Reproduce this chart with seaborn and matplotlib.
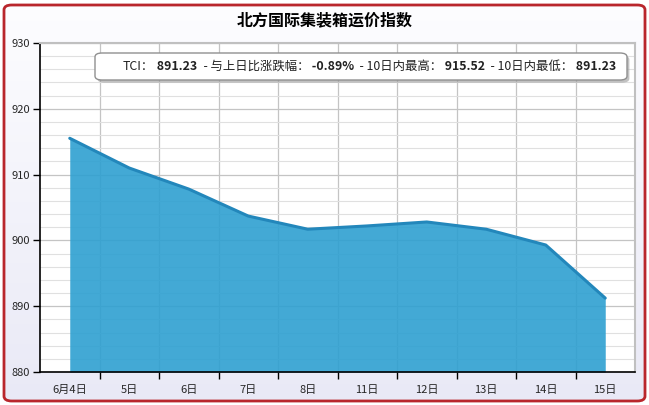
import numpy as np
import matplotlib
matplotlib.use("Agg")
import matplotlib.pyplot as plt
from matplotlib.patches import FancyBboxPatch
from matplotlib.ticker import MultipleLocator, FixedLocator
import seaborn as sns

# data
dates = ['6月4日', '5日', '6日', '7日', '8日', '11日', '12日', '13日', '14日', '15日']
tci = [915.52, 911.0, 907.8, 903.7, 901.7, 902.2, 902.8, 901.7, 899.3, 891.23]
title = '北方国际集装箱运价指数'
info_parts = [('TCI：', 'normal'), (' 891.23', 'bold'),
              ('  - 与上日比涨跌幅：', 'normal'), (' -0.89%', 'bold'),
              ('  - 10日内最高：', 'normal'), (' 915.52', 'bold'),
              ('  - 10日内最低：', 'normal'), (' 891.23', 'bold')]

sns.set_theme(style='white')
plt.rcParams['font.family'] = ['Noto Sans CJK SC', 'DejaVu Sans']

fig = plt.figure(figsize=(6.49, 4.05), dpi=100)
fig.patch.set_facecolor('white')

# background panel with gradient and red rounded border
bg = fig.add_axes([0, 0, 1, 1], zorder=-10)
bg.set_axis_off()
grad = np.linspace(0, 1, 256).reshape(-1, 1)
cmap = matplotlib.colors.LinearSegmentedColormap.from_list('bg', ['#fdfdff', '#e9e9f6'])
im = bg.imshow(grad, aspect='auto', cmap=cmap, extent=[0, 1, 0, 1], origin='upper')
bg.set_xlim(0, 1)
bg.set_ylim(0, 1)
frame = FancyBboxPatch((4 / 649, 4 / 405), 641 / 649, 396 / 405,
                       boxstyle='round,pad=0,rounding_size=0.012',
                       transform=bg.transAxes, facecolor='none',
                       edgecolor='#b9262c', linewidth=2)
bg.add_patch(frame)
im.set_clip_path(frame)

ax = fig.add_axes([40 / 649, 33 / 405, 595 / 649, 329 / 405])
ax.set_facecolor('white')
x = np.arange(len(dates))

# slightly see-through fill so the grid shows through, as in the original
ax.fill_between(x, tci, 880, color='#2ea0d1', alpha=0.9, linewidth=0, zorder=2)
sns.lineplot(x=x, y=tci, ax=ax, color='#2387bb', linewidth=2.2, zorder=3)

ax.set_xlim(-0.5, len(dates) - 0.5)
ax.set_ylim(880, 930)

# y axis
ax.yaxis.set_major_locator(MultipleLocator(10))
ax.yaxis.set_minor_locator(MultipleLocator(2))
ax.grid(which='major', axis='y', color='#c4c4c4', linewidth=0.9, zorder=1)
ax.grid(which='minor', axis='y', color='#e0e0e0', linewidth=0.8, zorder=1)
ax.tick_params(axis='y', which='major', left=True, length=5, width=1,
               color='black', labelsize=8, pad=2)
ax.tick_params(axis='y', which='minor', left=False)

# x axis: labels at centers, ticks and grid at category boundaries
ax.set_xticks(x)
ax.set_xticklabels(dates)
ax.xaxis.set_minor_locator(FixedLocator(np.arange(0.5, len(dates) - 0.5, 1)))
ax.tick_params(axis='x', which='major', bottom=False, labelsize=8, pad=3)
ax.tick_params(axis='x', which='minor', bottom=True, length=5, width=1, color='black')
ax.grid(which='minor', axis='x', color='#c4c4c4', linewidth=0.9, zorder=1)
ax.set_axisbelow(True)

for side in ['left', 'bottom']:
    ax.spines[side].set_color('black')
    ax.spines[side].set_linewidth(1.2)
for side in ['top', 'right']:
    ax.spines[side].set_color('#c0c0c0')
    ax.spines[side].set_linewidth(1.5)

# info box
x0, x1 = 55 / 595, 587 / 595
y0, y1 = (372 - 80) / 329, (372 - 53) / 329
shadow = FancyBboxPatch((x0 + 0.004, y0 - 0.008), x1 - x0, y1 - y0,
                        boxstyle='round,pad=0,rounding_size=0.012',
                        transform=ax.transAxes, facecolor='#9a9a9a',
                        edgecolor='none', alpha=0.6, zorder=5)
box = FancyBboxPatch((x0, y0), x1 - x0, y1 - y0,
                     boxstyle='round,pad=0,rounding_size=0.012',
                     transform=ax.transAxes, facecolor='white',
                     edgecolor='#909090', linewidth=1, zorder=6)
ax.add_patch(shadow)
ax.add_patch(box)

prev = ax.text((123 - 40) / 595, (y0 + y1) / 2, info_parts[0][0],
               transform=ax.transAxes, fontsize=8.9, va='center', ha='left',
               fontweight=info_parts[0][1], zorder=7, color='#222222')
for s, w in info_parts[1:]:
    prev = ax.annotate(s, xy=(1, 0), xycoords=prev, va='bottom', ha='left',
                       fontsize=8.9, fontweight=w, zorder=7, color='#222222')

fig.text(325 / 649, 1 - 20 / 405, title, ha='center', va='center',
         fontsize=11.5, fontweight='bold', color='black')

plt.savefig('out.png', dpi=100)
